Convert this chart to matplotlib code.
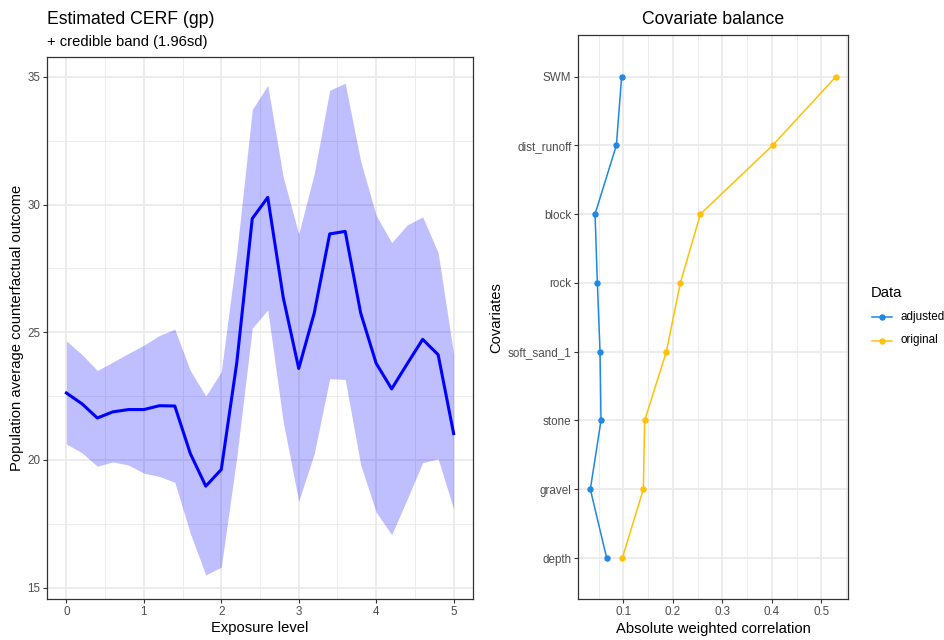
import numpy as np
import matplotlib
matplotlib.use("Agg")
import matplotlib.pyplot as plt
from matplotlib.lines import Line2D

plt.rcParams['font.family'] = ['Liberation Sans', 'DejaVu Sans']

# ---- CERF data ----
exposure = np.round(np.arange(0, 5.01, 0.2), 1)
cerf_mean = [22.62, 22.20, 21.64, 21.88, 21.97, 21.97, 22.12, 22.11, 20.25, 18.97,
             19.62, 23.80, 29.45, 30.28, 26.36, 23.58, 25.75, 28.85, 28.95, 25.75,
             23.78, 22.78, 23.76, 24.72, 24.12, 21.03]
cerf_upper = [24.66, 24.13, 23.50, 23.83, 24.17, 24.49, 24.87, 25.12, 23.50, 22.50,
              23.46, 28.10, 33.72, 34.67, 31.08, 28.85, 31.21, 34.48, 34.75, 31.70,
              29.58, 28.51, 29.20, 29.52, 28.12, 24.15]
cerf_lower = [20.62, 20.28, 19.75, 19.92, 19.80, 19.48, 19.35, 19.12, 17.12, 15.49,
              15.80, 20.10, 25.16, 25.87, 21.48, 18.38, 20.24, 23.18, 23.15, 19.80,
              17.95, 17.07, 18.46, 19.89, 20.04, 18.07]

# ---- covariate balance data ----
covariates = ['depth', 'gravel', 'stone', 'soft_sand_1', 'rock', 'block', 'dist_runoff', 'SWM']
cor_adjusted = [0.0663, 0.0333, 0.0549, 0.0529, 0.0475, 0.0428, 0.0859, 0.0966]
cor_original = [0.0980, 0.1404, 0.1431, 0.1869, 0.2152, 0.2556, 0.4017, 0.5296]
series_names = ['adjusted', 'original']
series_colors = ['#1E88E5', '#FFC107']

W, H = 945, 640
fig = plt.figure(figsize=(W / 100, H / 100), dpi=100)


def px_axes(x0, y0, x1, y1):
    return fig.add_axes([x0 / W, 1 - y1 / H, (x1 - x0) / W, (y1 - y0) / H])


def style(ax):
    ax.set_facecolor('white')
    for s in ax.spines.values():
        s.set_color('#333333')
        s.set_linewidth(0.9)
    ax.tick_params(length=2.7, width=0.8, color='#333333', labelcolor='#4D4D4D',
                   labelsize=8.4, pad=2.2)
    ax.tick_params(which='minor', length=0)
    ax.grid(which='major', color='#EBEBEB', linewidth=1.3)
    ax.grid(which='minor', color='#EBEBEB', linewidth=0.65)
    ax.set_axisbelow(True)


# ---- left panel ----
ax1 = px_axes(47, 57, 473, 599)
style(ax1)
ax1.fill_between(exposure, cerf_lower, cerf_upper, color='blue', alpha=0.25, linewidth=0)
ax1.plot(exposure, cerf_mean, color='blue', linewidth=2.2)
ax1.set_xlim(-0.25, 5.25)
ax1.set_ylim(14.55, 35.78)
ax1.set_xticks([0, 1, 2, 3, 4, 5])
ax1.set_xticks([0.5, 1.5, 2.5, 3.5, 4.5], minor=True)
ax1.set_yticks([15, 20, 25, 30, 35])
ax1.set_yticks([17.5, 22.5, 27.5, 32.5], minor=True)
ax1.set_xlabel('Exposure level', fontsize=10.6, labelpad=2.5)
ax1.set_ylabel('Population average counterfactual outcome', fontsize=10.6, labelpad=2.5)
fig.text(47 / W, 1 - 19 / H, 'Estimated CERF (gp)', fontsize=12.7, ha='left', va='center')
fig.text(47 / W, 1 - 42 / H, '+ credible band (1.96sd)', fontsize=10.6, ha='left', va='center')

# ---- right panel ----
ax2 = px_axes(578.3, 35.3, 848.3, 599.3)
style(ax2)
ypos = np.arange(len(covariates))
for vals, name, col in zip([cor_adjusted, cor_original], series_names, series_colors):
    ax2.plot(vals, ypos, color=col, linewidth=1.1, marker='o', markersize=3.6, label=name)
ax2.set_xlim(0.009, 0.5545)
ax2.set_ylim(-0.6, len(covariates) - 0.4)
ax2.set_yticks(ypos)
ax2.set_yticklabels(covariates)
ax2.set_xticks([0.1, 0.2, 0.3, 0.4, 0.5])
ax2.set_xticklabels(['0.1', '0.2', '0.3', '0.4', '0.5'])
ax2.set_xticks([0.05, 0.15, 0.25, 0.35, 0.45, 0.55], minor=True)
ax2.set_xlabel('Absolute weighted correlation', fontsize=10.6, labelpad=2.5)
ax2.set_ylabel('Covariates', fontsize=10.6, labelpad=3)
fig.text((578.3 + 848.3) / 2 / W, 1 - 19 / H, 'Covariate balance', fontsize=12.7,
         ha='center', va='center')

# ---- legend (drawn by hand, in pixel positions) ----
fig.text(871 / W, 1 - 293 / H, 'Data', fontsize=10.6, ha='left', va='center')
for i, (name, col) in enumerate(zip(series_names, series_colors)):
    yk = 1 - (317 + 23.5 * i) / H
    fig.add_artist(Line2D([872 / W, 892 / W], [yk, yk], color=col, linewidth=1.1,
                          transform=fig.transFigure))
    fig.add_artist(Line2D([882 / W], [yk], color=col, marker='o', markersize=3.6,
                          transform=fig.transFigure))
    fig.text(901 / W, yk, name, fontsize=8.4, ha='left', va='center')

fig.savefig('out.png', dpi=100, facecolor='white')
